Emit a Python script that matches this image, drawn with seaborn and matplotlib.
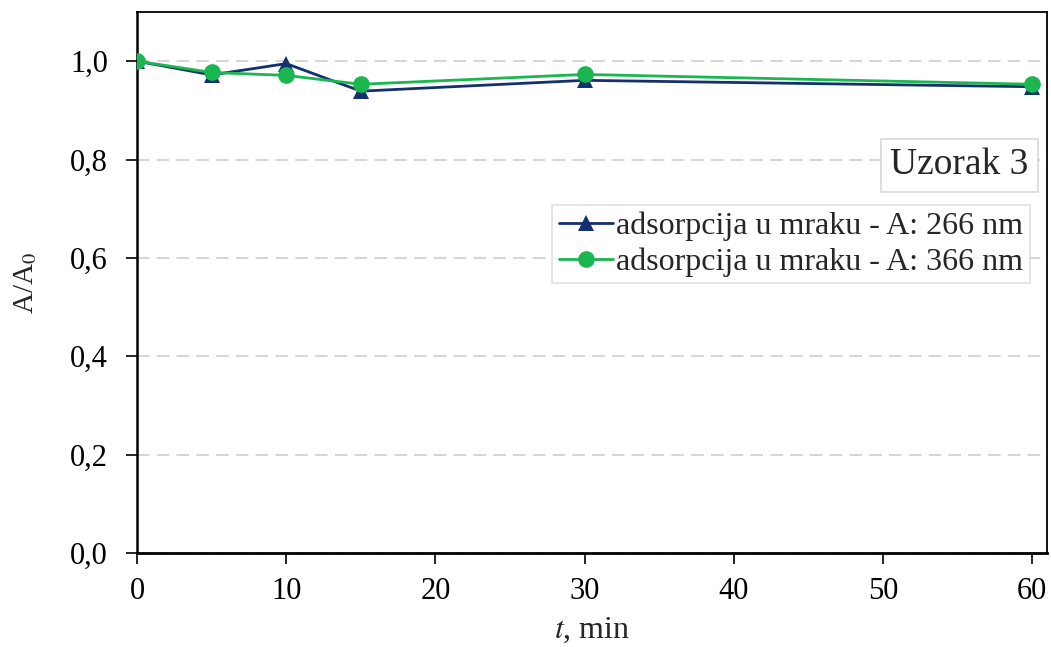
import pandas as pd
import matplotlib.pyplot as plt
import seaborn as sns

# Podaci očitani s grafa
t_min = [0, 5, 10, 15, 30, 60]
a_266 = [1.000, 0.972, 0.995, 0.939, 0.961, 0.948]
a_366 = [1.000, 0.977, 0.971, 0.953, 0.973, 0.953]
serije = ['adsorpcija u mraku - A: 266 nm', 'adsorpcija u mraku - A: 366 nm']
y_ticks = [0.0, 0.2, 0.4, 0.6, 0.8, 1.0]
x_ticks = [0, 10, 20, 30, 40, 50, 60]

df = pd.DataFrame({
    't': t_min * 2,
    'A': a_266 + a_366,
    'serija': [serije[0]] * len(t_min) + [serije[1]] * len(t_min),
})

sns.set_style('white')
plt.rcParams['font.family'] = ['Liberation Serif', 'DejaVu Serif']
plt.rcParams['mathtext.fontset'] = 'stix'

fig = plt.figure(figsize=(10.51, 6.47), dpi=100)
ax = fig.add_axes([0.1304, 0.1453, 0.8658, 0.8362])

boje = {serije[0]: '#15306f', serije[1]: '#1ab64f'}
markeri = {serije[0]: '^', serije[1]: 'o'}
sns.lineplot(data=df, x='t', y='A', hue='serija', style='serija',
             palette=boje, markers=markeri, dashes=False, linewidth=2,
             markersize=12, markeredgewidth=0, ax=ax, zorder=3)

ax.set_xlim(0, 61)
ax.set_ylim(0, 1.1)
ax.set_xticks(x_ticks)
ax.set_yticks(y_ticks)
ax.set_yticklabels([f'{v:.1f}'.replace('.', ',') for v in y_ticks])
ax.tick_params(axis='both', labelsize=22, direction='out', length=8, width=1.2,
               colors='black', bottom=True, left=True)
ax.tick_params(axis='y', pad=13)
ax.tick_params(axis='x', pad=9)
ax.yaxis.grid(True, linestyle=(0, (6, 3.5)), color='#d6d6d6', linewidth=1.5)
ax.set_axisbelow(True)
for s in ax.spines.values():
    s.set_color('black')
    s.set_linewidth(1.3)
ax.spines['bottom'].set_linewidth(2)
ax.spines['left'].set_linewidth(1.8)

ax.set_xlabel(r'$t$, min', fontsize=23, labelpad=7)
ax.set_ylabel(r'A/A$_0$', fontsize=21, labelpad=22)

leg = ax.legend(loc='upper right', bbox_to_anchor=(0.981, 0.643), fontsize=23,
                frameon=True, fancybox=False, edgecolor='#d9d9d9',
                handlelength=1.7, handletextpad=0.1, borderpad=0.2,
                labelspacing=0.2, borderaxespad=0)
leg.get_frame().set_linewidth(1.2)

ax.text(0.980, 0.685, 'Uzorak 3', transform=ax.transAxes, ha='right', va='bottom',
        fontsize=27, bbox=dict(boxstyle='square,pad=0.25', facecolor='white',
                               edgecolor='#d9d9d9', linewidth=1.2))

fig.savefig('out.png', dpi=100)
